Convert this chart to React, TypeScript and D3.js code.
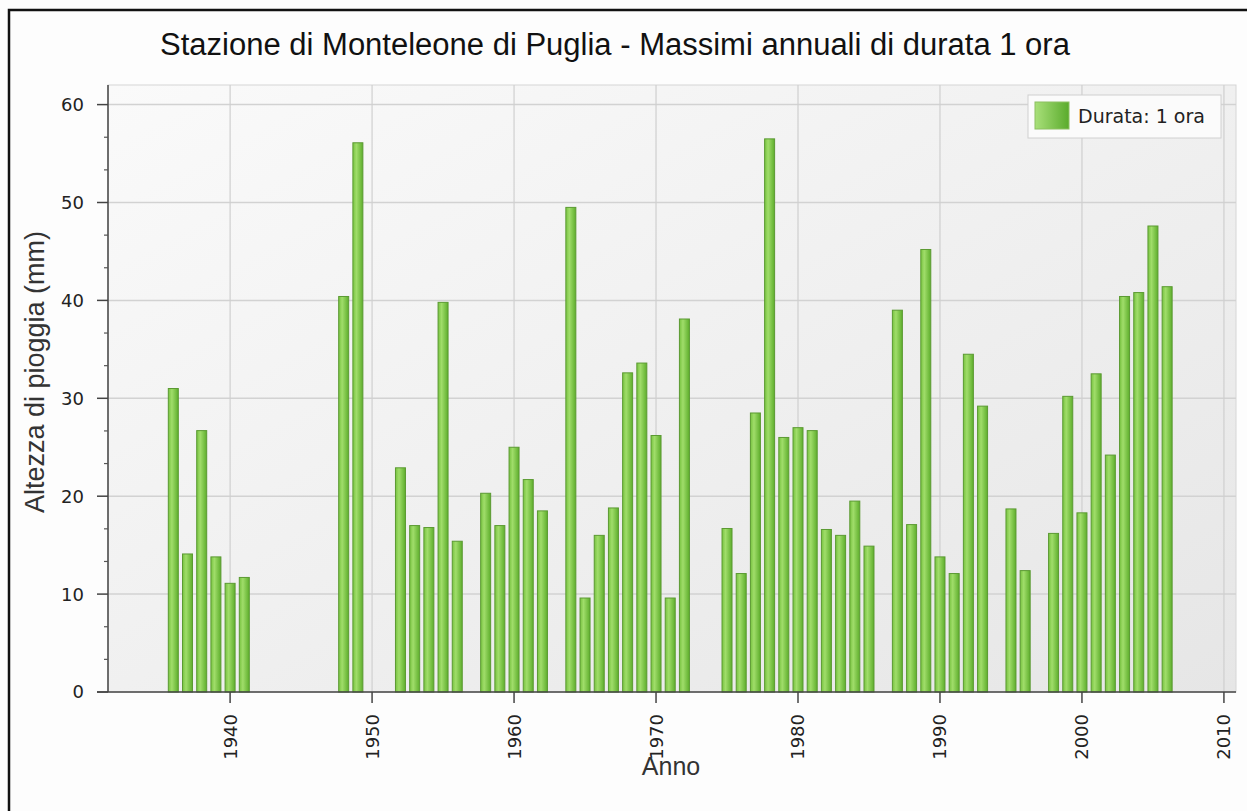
import React from 'react';
import * as d3 from 'd3';

// annual maxima, 1-hour duration (mm)
const years = [
  1936, 1937, 1938, 1939, 1940, 1941,
  1948, 1949,
  1952, 1953, 1954, 1955, 1956,
  1958, 1959, 1960, 1961, 1962,
  1964, 1965, 1966, 1967, 1968, 1969, 1970, 1971, 1972,
  1975, 1976, 1977, 1978, 1979, 1980, 1981, 1982, 1983, 1984, 1985,
  1987, 1988, 1989, 1990, 1991, 1992, 1993,
  1995, 1996,
  1998, 1999, 2000, 2001, 2002, 2003, 2004, 2005, 2006,
];
const rainfall = [
  31.0, 14.1, 26.7, 13.8, 11.1, 11.7,
  40.4, 56.1,
  22.9, 17.0, 16.8, 39.8, 15.4,
  20.3, 17.0, 25.0, 21.7, 18.5,
  49.5, 9.6, 16.0, 18.8, 32.6, 33.6, 26.2, 9.6, 38.1,
  16.7, 12.1, 28.5, 56.5, 26.0, 27.0, 26.7, 16.6, 16.0, 19.5, 14.9,
  39.0, 17.1, 45.2, 13.8, 12.1, 34.5, 29.2,
  18.7, 12.4,
  16.2, 30.2, 18.3, 32.5, 24.2, 40.4, 40.8, 47.6, 41.4,
];
const yTicks = [0, 10, 20, 30, 40, 50, 60];
const xTicks = [1940, 1950, 1960, 1970, 1980, 1990, 2000, 2010];

const title = 'Stazione di Monteleone di Puglia - Massimi annuali di durata 1 ora';
const seriesName = 'Durata: 1 ora';

const W = 1247;
const H = 811;
const plot = { left: 108, right: 1236, top: 85, bottom: 692 };

export default function App() {
  const x = d3.scaleLinear().domain([1931.4, 2010.85]).range([plot.left, plot.right]);
  const y = d3.scaleLinear().domain([0, 60]).range([plot.bottom, plot.bottom - 60 * 9.79]);
  const barW = 10;
  // three minor divisions per major step
  const minorTicks = d3.range(0, 60, 10 / 3).filter((_, i) => i % 3 !== 0);
  const tickFont = '"DejaVu Sans", Verdana, sans-serif';
  const titleFont = '"Liberation Sans", Arial, sans-serif';

  return (
    <div style={{ position: 'fixed', left: 0, top: 0, width: W, height: H, background: '#fff' }}>
      <svg width={W} height={H} viewBox={`0 0 ${W} ${H}`} style={{ display: 'block' }}>
        <defs>
          <linearGradient id="plotBg" x1="0" y1="0" x2="1" y2="1">
            <stop offset="0%" stopColor="#fafafa" />
            <stop offset="100%" stopColor="#e6e6e6" />
          </linearGradient>
          <linearGradient id="barFill" x1="0" y1="0" x2="1" y2="0">
            <stop offset="0%" stopColor="#78c340" />
            <stop offset="35%" stopColor="#a0dd6a" />
            <stop offset="100%" stopColor="#5eae2c" />
          </linearGradient>
          <linearGradient id="swatchFill" x1="0" y1="0" x2="1" y2="0">
            <stop offset="0%" stopColor="#a9e07a" />
            <stop offset="100%" stopColor="#5aab2c" />
          </linearGradient>
        </defs>

        {/* outer frame */}
        <rect x={0} y={0} width={W} height={H} fill="#fdfdfd" />
        <rect x={9} y={10} width={W + 20} height={H + 20} fill="none" stroke="#111" strokeWidth={2.5} />

        <text x={615} y={55} textAnchor="middle" fontFamily={titleFont} fontSize={31} fill="#111">
          {title}
        </text>

        {/* plot area */}
        <rect
          x={plot.left}
          y={plot.top}
          width={plot.right - plot.left}
          height={plot.bottom - plot.top}
          fill="url(#plotBg)"
          stroke="#d6d6d6"
        />

        {/* grid */}
        {yTicks.filter((t) => t > 0).map((t) => (
          <line key={`gy${t}`} x1={plot.left} x2={plot.right} y1={y(t)} y2={y(t)} stroke="#d2d2d2" strokeWidth={1.5} />
        ))}
        {xTicks.filter((t) => x(t) < plot.right - 2).map((t) => (
          <line key={`gx${t}`} x1={x(t)} x2={x(t)} y1={plot.top} y2={plot.bottom} stroke="#cfcfcf" strokeWidth={1.2} />
        ))}

        {/* bars */}
        {years.map((yr, i) => (
          <rect
            key={yr}
            x={x(yr) - barW / 2}
            y={y(rainfall[i])}
            width={barW}
            height={y(0) - y(rainfall[i])}
            fill="url(#barFill)"
            stroke="#5b9a32"
            strokeWidth={1}
          />
        ))}

        {/* y axis */}
        <line x1={plot.left} x2={plot.left} y1={plot.top} y2={plot.bottom} stroke="#444" strokeWidth={1.5} />
        {yTicks.map((t) => (
          <g key={`yt${t}`}>
            <line x1={plot.left - 11} x2={plot.left} y1={y(t)} y2={y(t)} stroke="#444" strokeWidth={1.5} />
            <text x={plot.left - 24} y={y(t)} dy="0.36em" textAnchor="end" fontFamily={tickFont} fontSize={18} fill="#222">
              {t}
            </text>
          </g>
        ))}
        {minorTicks.map((t) => (
          <line key={`ym${t}`} x1={plot.left - 4} x2={plot.left} y1={y(t)} y2={y(t)} stroke="#555" strokeWidth={1.2} />
        ))}

        {/* x axis */}
        <line x1={plot.left - 11} x2={plot.right} y1={plot.bottom} y2={plot.bottom} stroke="#444" strokeWidth={1.5} />
        {xTicks.map((t) => (
          <g key={`xt${t}`}>
            <line x1={x(t)} x2={x(t)} y1={plot.bottom} y2={plot.bottom + 11} stroke="#444" strokeWidth={1.5} />
            <text
              transform={`translate(${x(t)}, ${plot.bottom + 22}) rotate(-90)`}
              dy="0.36em"
              textAnchor="end"
              fontFamily={tickFont}
              fontSize={18}
              fill="#222"
            >
              {t}
            </text>
          </g>
        ))}

        {/* axis titles */}
        <text transform="translate(44, 372) rotate(-90)" textAnchor="middle" fontFamily={titleFont} fontSize={27} fill="#333">
          Altezza di pioggia (mm)
        </text>
        <text x={671} y={775} textAnchor="middle" fontFamily={titleFont} fontSize={25} fill="#333">
          Anno
        </text>

        {/* legend */}
        <rect x={1028} y={95} width={193} height={43} fill="#fbfbfb" stroke="#d0d0d0" />
        <rect x={1035} y={102} width={34} height={27} fill="url(#swatchFill)" stroke="#8cc060" />
        <text x={1078} y={116} dy="0.36em" fontFamily={tickFont} fontSize={19} fill="#222">
          {seriesName}
        </text>
      </svg>
    </div>
  );
}
